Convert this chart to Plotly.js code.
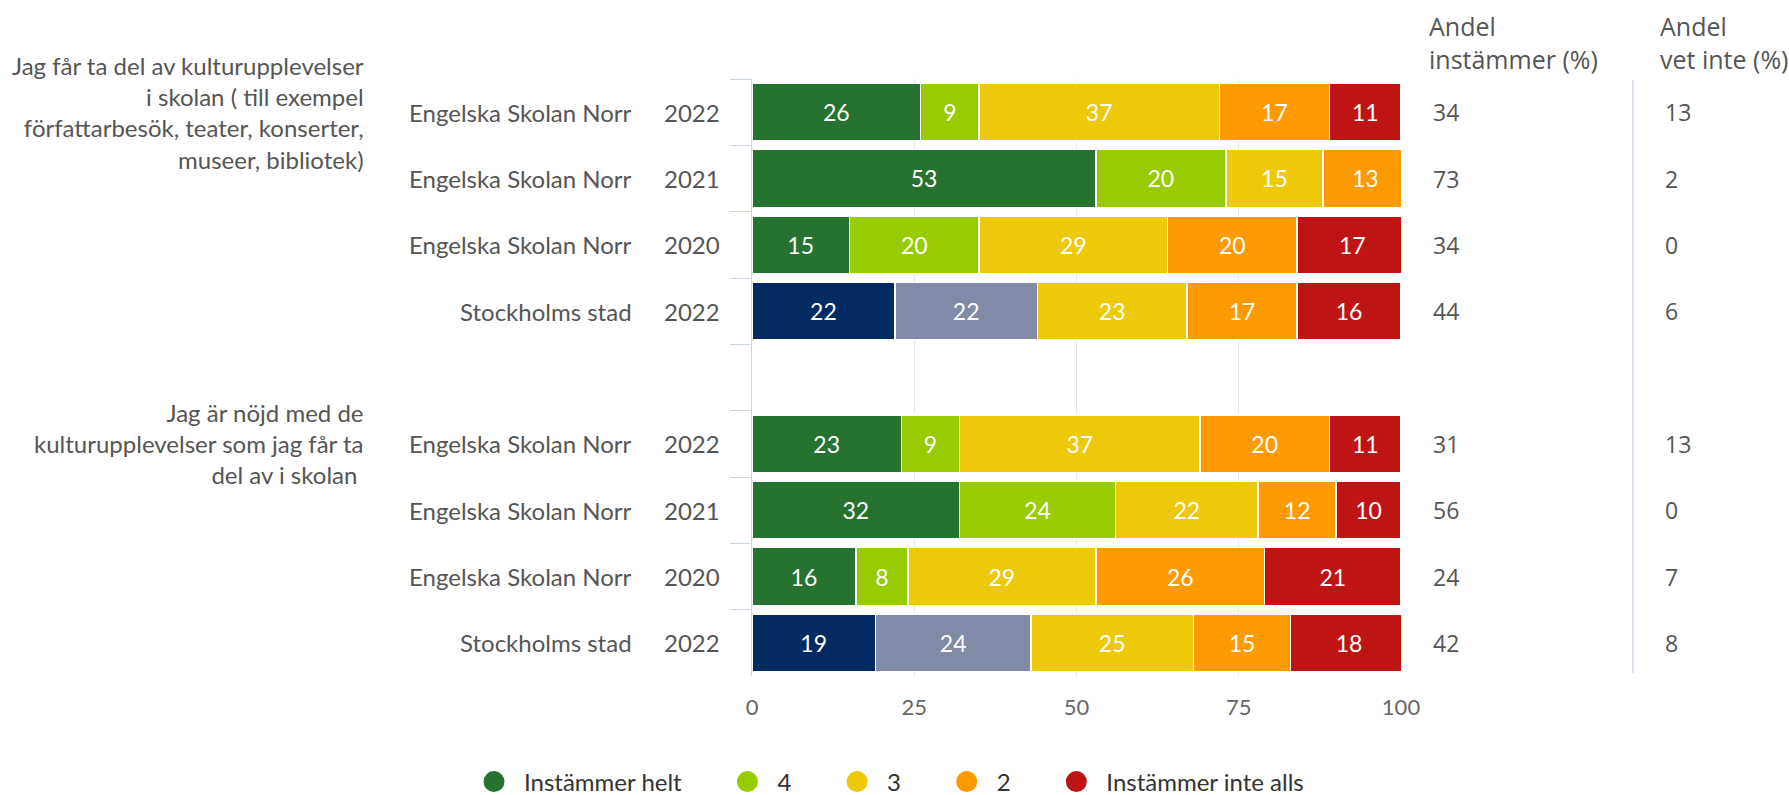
<!DOCTYPE html>
<html>
<head>
<meta charset="utf-8">
<script src="https://cdn.plot.ly/plotly-3.0.1.min.js"></script>
<style>
  html, body { margin: 0; padding: 0; background: #ffffff; }
  #chart { width: 1789px; height: 795px; }
</style>
</head>
<body>
<div id="chart"></div>
<script>
// ---------- DATA ----------
const questions = [
  "Jag får ta del av kulturupplevelser<br>i skolan ( till exempel<br>författarbesök, teater, konserter,<br>museer, bibliotek)",
  "Jag är nöjd med de<br>kulturupplevelser som jag får ta<br>del av i skolan\u00a0"
];
const units = ["Engelska Skolan Norr", "Engelska Skolan Norr", "Engelska Skolan Norr", "Stockholms stad"];
const years = ["2022", "2021", "2020", "2022"];
const seriesNames = ["Instämmer helt", "4", "3", "2", "Instämmer inte alls"];

// values per row: question 1 (4 rows), then question 2 (4 rows)
const instammerHelt = [26, 53, 15, 22, 23, 32, 16, 19];
const val4          = [9, 20, 20, 22, 9, 24, 8, 24];
const val3          = [37, 15, 29, 23, 37, 22, 29, 25];
const val2          = [17, 13, 20, 17, 20, 12, 26, 15];
const instammerInteAlls = [11, 0, 17, 16, 11, 10, 21, 18];

const andelInstammer = [34, 73, 34, 44, 31, 56, 24, 42];
const andelVetInte   = [13, 2, 0, 6, 13, 0, 7, 8];

const colHeaders = ["Andel<br>instämmer (%)", "Andel<br>vet inte (%)"];
const xTicks = [0, 25, 50, 75, 100];

// ---------- STYLE ----------
const seriesColors = ["#267330", "#99cc00", "#eec90a", "#fd9a00", "#be1414"];
const cityColors = ["#032b61", "#818ba7"];
const FONT = "Lato, 'Open Sans', sans-serif";
const FONT2 = "'Open Sans', 'Noto Sans', sans-serif";
const W = 1789, H = 795;
const M = { l: 752, r: 388, t: 79, b: 119, autoexpand: false };
const PW = W - M.l - M.r, PH = H - M.t - M.b;
const px = x => (x - M.l) / PW;
const py = y => (H - M.b - y) / PH;

// ---------- BUILD ----------
const rowKeys = [];
const dataKeys = [];
const isCity = [];
questions.forEach((q, qi) => {
  if (qi > 0) rowKeys.push("gap" + qi);
  units.forEach((u, ui) => {
    const k = "Q" + qi + "|" + u + "|" + years[ui];
    rowKeys.push(k);
    dataKeys.push(k);
    isCity.push(u === "Stockholms stad");
  });
});

const seriesValues = [instammerHelt, val4, val3, val2, instammerInteAlls];
const traces = seriesValues.map((vals, si) => ({
  type: "bar",
  orientation: "h",
  name: seriesNames[si],
  x: vals,
  y: dataKeys,
  text: vals.map(v => String(v)),
  textposition: "inside",
  insidetextanchor: "middle",
  constraintext: "none",
  textangle: 0,
  textfont: { color: "#ffffff", size: 23, family: FONT },
  marker: {
    color: vals.map((v, i) => (isCity[i] && si < 2) ? cityColors[si] : seriesColors[si]),
    line: { color: "#ffffff", width: 1.5 }
  },
  showlegend: false,
  hoverinfo: "x+name"
}));

// legend entries (circles)
const legendPad = "\u00a0".repeat(5);
seriesNames.forEach((n, si) => {
  traces.push({
    type: "scatter",
    mode: "markers",
    x: [null], y: [null],
    name: n + (si < seriesNames.length - 1 ? legendPad : ""),
    marker: { symbol: "circle", size: 16, color: seriesColors[si], line: { color: seriesColors[si], width: 5 } },
    showlegend: true,
    hoverinfo: "skip"
  });
});

const annotations = [];
// question group labels
questions.forEach((q, qi) => {
  annotations.push({
    xref: "paper", yref: "y", x: px(366), y: "Q" + qi + "|" + units[0] + "|" + years[0],
    xanchor: "right", yanchor: "middle", align: "right",
    text: q, showarrow: false,
    font: { family: FONT, size: 24, color: "#555555" }
  });
});
// row labels, and right-hand columns
dataKeys.forEach((k, i) => {
  const ui = i % units.length;
  annotations.push({
    xref: "paper", yref: "y", x: px(634), y: k, xanchor: "right", yanchor: "middle",
    text: units[ui], showarrow: false, font: { family: FONT, size: 24, color: "#555555" }
  });
  annotations.push({
    xref: "paper", yref: "y", x: px(722), y: k, xanchor: "right", yanchor: "middle",
    text: years[ui], showarrow: false, font: { family: FONT, size: 24, color: "#555555" }
  });
  annotations.push({
    xref: "paper", yref: "y", x: px(1431), y: k, xanchor: "left", yanchor: "middle",
    text: String(andelInstammer[i]), showarrow: false, font: { family: FONT2, size: 23, color: "#555555" }
  });
  annotations.push({
    xref: "paper", yref: "y", x: px(1663), y: k, xanchor: "left", yanchor: "middle",
    text: String(andelVetInte[i]), showarrow: false, font: { family: FONT2, size: 23, color: "#555555" }
  });
});
// column headers
annotations.push({
  xref: "paper", yref: "paper", x: px(1427), y: py(43), xanchor: "left", yanchor: "middle", align: "left",
  text: colHeaders[0], showarrow: false, font: { family: FONT2, size: 25, color: "#555555" }
});
annotations.push({
  xref: "paper", yref: "paper", x: px(1658), y: py(43), xanchor: "left", yanchor: "middle", align: "left",
  text: colHeaders[1], showarrow: false, font: { family: FONT2, size: 25, color: "#555555" }
});

const layout = {
  width: W, height: H,
  margin: M,
  paper_bgcolor: "#ffffff",
  plot_bgcolor: "#ffffff",
  barmode: "stack",
  bargap: 0.13,
  font: { family: FONT, color: "#555555" },
  xaxis: {
    range: [0, 100],
    tickvals: xTicks,
    ticktext: xTicks.map(String),
    showgrid: true, gridcolor: "#e6e6e6", gridwidth: 1,
    zeroline: false, showline: false,
    ticks: "", ticklabelstandoff: 16,
    tickfont: { family: FONT, size: 22, color: "#666666" },
    fixedrange: true
  },
  yaxis: {
    type: "category",
    categoryorder: "array",
    categoryarray: rowKeys,
    range: [rowKeys.length - 0.5, -0.5],
    showticklabels: false,
    ticks: "outside", tickson: "boundaries", ticklen: 21, tickwidth: 1, tickcolor: "#ccd6eb",
    showline: true, linecolor: "#ccd6eb", linewidth: 1,
    showgrid: false, zeroline: false,
    fixedrange: true
  },
  shapes: [{
    type: "line", xref: "paper", yref: "paper",
    x0: px(1633), x1: px(1633), y0: py(673), y1: py(80),
    line: { color: "#ccd6eb", width: 1.5 }
  }],
  annotations: annotations,
  showlegend: true,
  legend: {
    orientation: "h",
    xref: "paper", yref: "paper",
    x: px(464), xanchor: "left",
    y: py(782), yanchor: "middle",
    font: { family: FONT, size: 24, color: "#333333" },
    itemwidth: 50,
    traceorder: "normal",
    bgcolor: "rgba(0,0,0,0)"
  },
  hovermode: "closest"
};

Plotly.newPlot("chart", traces, layout, { displayModeBar: false, staticPlot: false });
</script>
</body>
</html>
